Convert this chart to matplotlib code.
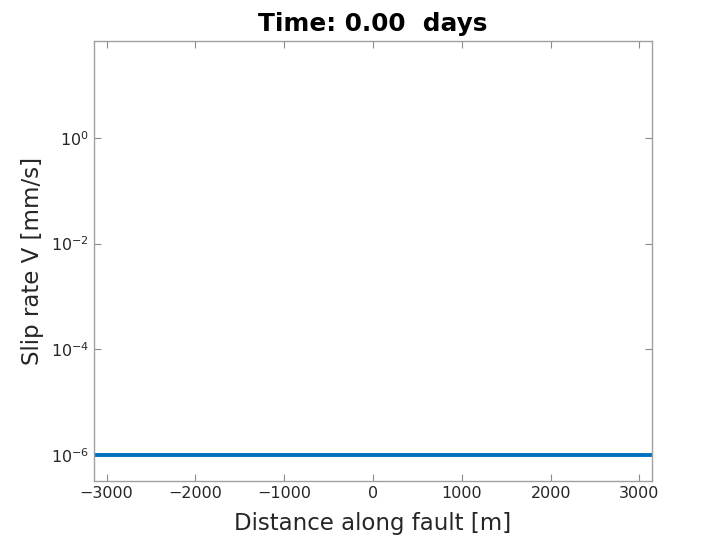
import numpy as np
import matplotlib
matplotlib.use('Agg')
import matplotlib.pyplot as plt

# slip rate profile at t = 0 (uniform initial slip rate)
distance = [-3141.6, -2000.0, -1000.0, 0.0, 1000.0, 2000.0, 3141.6]
slip_rate = [1e-6, 1e-6, 1e-6, 1e-6, 1e-6, 1e-6, 1e-6]

x_ticks = [-3000, -2000, -1000, 0, 1000, 2000, 3000]
y_ticks = [1e-6, 1e-4, 1e-2, 1e0]
title = 'Time: 0.00  days'

plt.rcParams['font.family'] = 'DejaVu Sans'

fig = plt.figure(figsize=(7.2, 5.4), dpi=100)
ax = fig.add_axes([0.1306, 0.1093, 0.775, 0.8147])

ax.plot(distance, slip_rate, color='#0072BD', linewidth=2.8)

ax.set_yscale('log')
ax.set_xlim(-3141.6, 3141.6)
ax.set_ylim(3.2e-7, 68)
ax.set_xticks(x_ticks)
ax.set_xticklabels(['\u22123000', '\u22122000', '\u22121000', '0', '1000', '2000', '3000'])
ax.set_yticks(y_ticks)
ax.yaxis.set_minor_locator(matplotlib.ticker.NullLocator())

ax.tick_params(direction='in', length=5, width=0.8, color='#8c8c8c',
               labelsize=11.5, labelcolor='#262626', top=True, right=True)
for s in ax.spines.values():
    s.set_color('#a0a0a0')
    s.set_linewidth(1.0)

ax.set_xlabel('Distance along fault [m]', fontsize=16.5, color='#262626', labelpad=8)
ax.set_ylabel('Slip rate V [mm/s]', fontsize=16.5, color='#262626', labelpad=5)
ax.set_title(title, fontsize=17.8, fontweight='bold', color='black', pad=7)

fig.savefig('out.png', dpi=100)
